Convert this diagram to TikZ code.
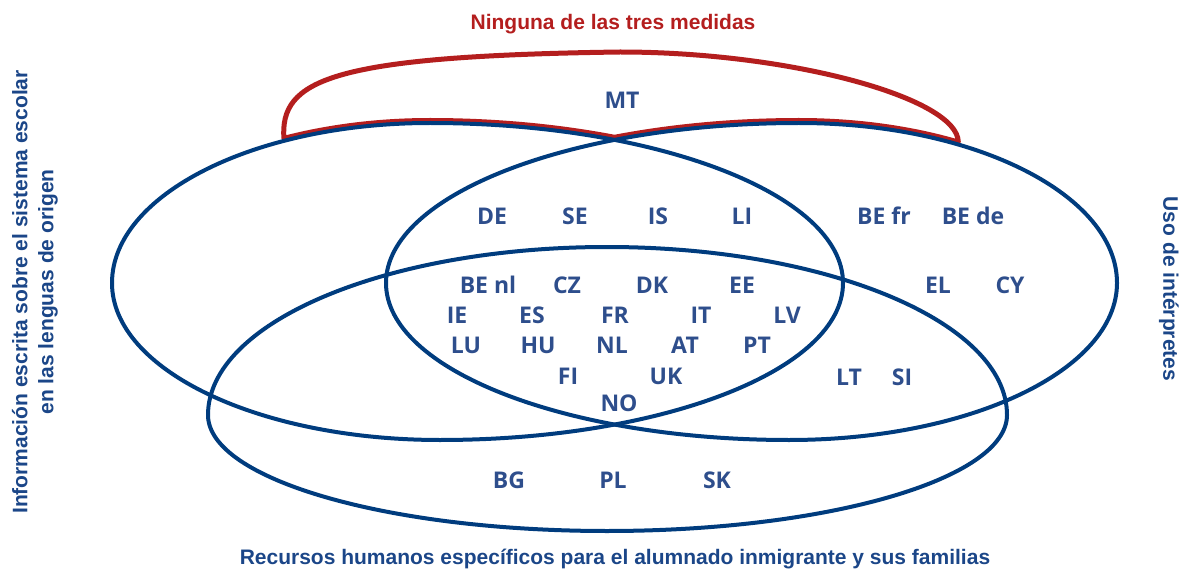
\documentclass[tikz,border=0pt]{standalone}
\usepackage{fontspec}
\setmainfont{Liberation Sans}
\newfontfamily\codefont{Open Sans}
\usepackage{xcolor}
\definecolor{vennblue}{HTML}{003C7E}
\definecolor{codeblue}{HTML}{2E4E8C}
\definecolor{titleblue}{HTML}{1B4688}
\definecolor{vennred}{HTML}{B41E1E}

\begin{document}
\begin{tikzpicture}[x=1pt,y=-1pt,
  venn/.style={draw=vennblue,line width=4pt},
  code/.style={text=codeblue,inner sep=0pt,font=\codefont\bfseries\fontsize{23}{23}\selectfont},
  heading/.style={text=titleblue,inner sep=0pt,align=center,font=\bfseries\fontsize{21}{26}\selectfont}]
  \useasboundingbox (0,0) rectangle (1183,572);
  \draw[vennred,line width=5pt,line join=round]
    (283.9,138.4) .. controls (280,80) and (330,56) .. (620,52)
    .. controls (790,52) and (958,98) .. (958.3,142.1)
    .. controls (911.5,128.4) and (857.1,120.5) .. (799,120.5)
    .. controls (732.9,120.5) and (670.4,126.6) .. (614.5,137.3)
    .. controls (558.6,126.6) and (496.1,120.5) .. (430,120.5)
    .. controls (377.2,120.5) and (327.8,127) .. cycle;
  \draw[venn] (112,283) .. controls (112,195) and (254,123) .. (430,123)
    .. controls (658,123) and (843,195) .. (843,283)
    .. controls (843,370) and (662,440) .. (440,440)
    .. controls (259,440) and (112,370) .. cycle;
  \draw[venn] (1117,283) .. controls (1117,195) and (975,123) .. (799,123)
    .. controls (571,123) and (386,195) .. (386,283)
    .. controls (386,370) and (567,440) .. (789,440)
    .. controls (970,440) and (1117,370) .. cycle;
  \draw[venn] (208,415) .. controls (208,322) and (387,247) .. (607,247)
    .. controls (827,247) and (1007,322) .. (1007,415)
    .. controls (1007,479) and (827,531) .. (607,531)
    .. controls (387,531) and (208,479) .. cycle;
  \foreach \id/\lbl/\px/\py in {mt/MT/622/100,
      de/DE/492/216, se/SE/575/216, is/IS/658/216, li/LI/742/216, befr/BE fr/884/216, bede/BE de/973/216,
      benl/BE nl/488/285, cz/CZ/567/285, dk/DK/652/285, ee/EE/742/285, el/EL/938/285, cy/CY/1010/285,
      ie/IE/457/315, es/ES/532/315, fr/FR/615/315, it/IT/701/315, lv/LV/787/315,
      lu/LU/466/345, hu/HU/538/345, nl/NL/612/345, at/AT/685/345, pt/PT/757/345,
      fi/FI/568/376, uk/UK/666/376, lt/LT/849/377, si/SI/902/377,
      no/NO/619/403,
      bg/BG/509/480, pl/PL/613/480, sk/SK/717/480}
    \node[code] (\id) at (\px,\py) {\lbl};
  \node[heading,text=vennred] (ninguna) at (613,24) {Ninguna de las tres medidas};
  \node[heading] (recursos) at (615,559) {Recursos humanos específicos para el alumnado inmigrante y sus familias};
  \node[heading,rotate=90] (informacion) at (35,292) {Información escrita sobre el sistema escolar\\en las lenguas de origen};
  \node[heading,rotate=-90] (interpretes) at (1169,289) {Uso de intérpretes};
\end{tikzpicture}
\end{document}
